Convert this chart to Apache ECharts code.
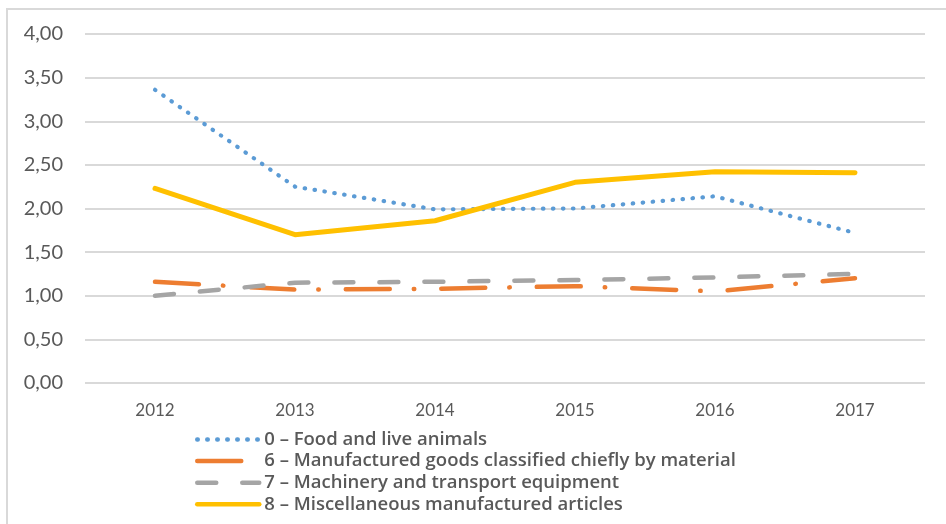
<!DOCTYPE html>
<html>
<head>
<meta charset="utf-8">
<script src="https://cdn.jsdelivr.net/npm/echarts@6/dist/echarts.min.js"></script>
<style>
html,body{margin:0;padding:0;background:#fff;}
#c{width:946px;height:524px;}
</style>
</head>
<body>
<div id="c"></div>
<script>
const years = ['2012','2013','2014','2015','2016','2017'];
const foodLive = [3.36, 2.25, 1.99, 2.00, 2.14, 1.72];
const manufMaterial = [1.16, 1.07, 1.08, 1.11, 1.05, 1.20];
const machinery = [1.00, 1.15, 1.16, 1.18, 1.21, 1.25];
const miscArticles = [2.23, 1.70, 1.86, 2.30, 2.42, 2.41];
const seriesNames = [
  '0 – Food and live animals',
  '6 – Manufactured goods classified chiefly by material',
  '7 – Machinery and transport equipment',
  '8 – Miscellaneous manufactured articles'
];

const chart = echarts.init(document.getElementById('c'));
const font = 'Lato, "Open Sans", sans-serif';
function mk(name, data, color, type, width) {
  return {
    name: name, type: 'line', data: data, symbol: 'none', showSymbol: false,
    smooth: false,
    lineStyle: { color: color, width: width, type: type, cap: 'round', join: 'round' },
    itemStyle: { color: color },
    emphasis: { disabled: true }
  };
}
chart.setOption({
  animation: false,
  backgroundColor: '#fff',
  graphic: [{
    type: 'rect', shape: { x: 7, y: 9, width: 960, height: 540 },
    style: { fill: 'none', stroke: '#d9d9d9', lineWidth: 2 }, silent: true
  }],
  grid: { left: 85, right: 21, top: 34, bottom: 141 },
  xAxis: {
    type: 'category', data: years, boundaryGap: true,
    axisLine: { show: false }, axisTick: { show: false },
    axisLabel: { color: '#595959', fontSize: 17, fontFamily: font, margin: 19 }
  },
  yAxis: {
    type: 'value', min: 0, max: 4, interval: 0.5,
    axisLine: { show: false }, axisTick: { show: false },
    splitLine: { lineStyle: { color: '#d9d9d9', width: 2 } },
    axisLabel: { color: '#595959', fontSize: 20, fontFamily: font, margin: 22,
      formatter: v => v.toFixed(2).replace('.', ',') }
  },
  legend: {
    orient: 'vertical', left: 190, top: 425, itemGap: 2.6,
    itemWidth: 62, itemHeight: 16,
    itemStyle: { opacity: 0 },
    lineStyle: { width: 4.5, cap: 'round' },
    textStyle: { color: '#595959', fontSize: 18.5, fontWeight: 600, fontFamily: '"Open Sans", Lato, sans-serif', lineHeight: 16 },
    data: seriesNames
  },
  series: [
    mk(seriesNames[0], foodLive, '#5b9bd5', [0.5, 9.5], 4.2),
    mk(seriesNames[1], manufMaterial, '#ed7d31', [44, 24, 0.5, 27], 4.5),
    mk(seriesNames[2], machinery, '#a5a5a5', [19, 26], 4.5),
    mk(seriesNames[3], miscArticles, '#ffc000', 'solid', 5)
  ]
});
</script>
</body>
</html>
